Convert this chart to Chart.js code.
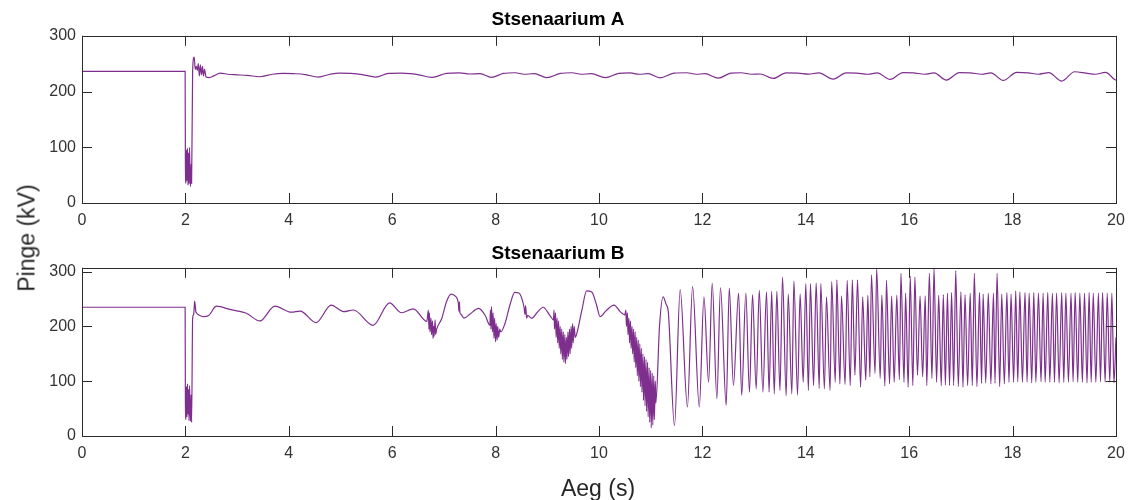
<!DOCTYPE html>
<html>
<head>
<meta charset="utf-8">
<script src="https://cdn.jsdelivr.net/npm/chart.js@4.4.1/dist/chart.umd.min.js"></script>
<style>
  body { margin: 0; background: #fff; width: 1128px; height: 500px; position: relative; overflow: hidden; }
  canvas { position: absolute; left: 0; }
  #chartA { top: 0; }
  #chartB { top: 232px; }
  .lbl { position: absolute; font-family: "Liberation Sans", Arial, Helvetica, sans-serif; font-size: 23px; color: #262626; white-space: nowrap; }
  #ylabel { left: 27px; top: 238px; transform: translate(-50%, -50%) rotate(-90deg); }
  #xlabel { left: 598px; top: 488px; transform: translate(-50%, -50%); }
</style>
</head>
<body>
<canvas id="chartA" width="1128" height="235"></canvas>
<canvas id="chartB" width="1128" height="268"></canvas>
<div class="lbl" id="ylabel">Pinge (kV)</div>
<div class="lbl" id="xlabel">Aeg (s)</div>
<script>
// axis ticks
const xTicks = [0, 2, 4, 6, 8, 10, 12, 14, 16, 18, 20];
const yTicks = [0, 100, 200, 300];
const titles = ["Stsenaarium A", "Stsenaarium B"];

// Stsenaarium A: time (s) and voltage (kV)
const tA = [0, 1.995, 2.0, 2.01, 2.02, 2.03, 2.04, 2.05, 2.06, 2.07, 2.08, 2.09, 2.10, 2.11, 2.12,
  2.14, 2.17, 2.19, 2.21, 2.23, 2.25, 2.27, 2.29, 2.31, 2.33, 2.35, 2.37, 2.40, 2.46, 2.55,
  2.67, 2.82, 2.99, 3.2, 3.44, 3.68, 3.89, 4.1, 4.32, 4.57, 4.8, 4.98, 5.2, 5.42, 5.68,
  5.93, 6.18, 6.35, 6.52, 6.76, 7.05, 7.3, 7.5, 7.7, 7.92, 8.15, 8.38, 8.55, 8.75, 8.99,
  9.25, 9.48, 9.65, 9.85, 10.12, 10.38, 10.6, 10.78, 10.95, 11.18, 11.45, 11.7, 11.88, 12.05, 12.31,
  12.55, 12.75, 12.95, 13.12, 13.37, 13.62, 13.85, 14.05, 14.25, 14.53, 14.78, 14.98, 15.2, 15.38, 15.63,
  15.88, 16.08, 16.3, 16.48, 16.72, 16.97, 17.18, 17.4, 17.58, 17.82, 18.08, 18.3, 18.5, 18.7, 18.95,
  19.2, 19.42, 19.6, 19.8, 19.98, 20];
const vA = [236, 236, 70, 35, 95, 40, 98, 32, 90, 35, 100, 45, 30, 70, 35,
  238, 262, 240, 245, 238, 250, 228, 248, 230, 245, 228, 240, 226, 225, 228,
  233, 231, 230, 229, 226.5, 231, 232.5, 232, 230.5, 226, 231, 233, 232.5, 230.5, 226,
  232.5, 233, 232, 230, 225.3, 232.5, 233.5, 231.5, 232, 225.3, 232.5, 233.7, 231, 232, 225,
  232.5, 233.7, 231, 232, 225, 232.5, 233.5, 231, 232, 224.5, 233, 233.7, 231, 232, 224,
  233, 233.7, 231, 231.5, 223.6, 233.5, 233, 231.3, 233.5, 222.4, 233.5, 233, 231, 233.5, 221.8,
  234, 233.5, 231, 233.5, 220.6, 234, 233.5, 231, 233.5, 220, 234.5, 233.5, 231, 234, 218.8,
  235.5, 233, 231, 234.5, 221, 220.6];

// Stsenaarium B: time (s) and voltage (kV)
const tB = [
  0, 1.995, 2.0, 2.01, 2.02, 2.03, 2.04, 2.05, 2.06, 2.07, 2.08, 2.09, 2.10, 2.11, 2.12, 2.14, 2.16, 2.18, 2.20, 2.22, 2.26, 2.35, 2.45,
  2.6, 2.86, 3.18, 3.44, 3.73, 4.05, 4.22, 4.53, 4.82, 5.06, 5.25, 5.63, 5.95, 6.18, 6.41, 6.67,
  6.70, 6.71, 6.72, 6.73, 6.75, 6.76, 6.78, 6.79, 6.80, 6.81, 6.83, 6.84, 6.86, 6.88,
  6.96, 7.05, 7.14, 7.21, 7.28, 7.29, 7.30, 7.31, 7.33, 7.39, 7.5, 7.67, 7.80, 7.89,
  7.90, 7.91, 7.92, 7.94, 7.95, 7.97, 7.98, 8.00, 8.01, 8.03, 8.04, 8.06, 8.08, 8.10,
  8.18, 8.28, 8.37, 8.45, 8.55, 8.57, 8.58, 8.60, 8.62, 8.70, 8.80, 8.92, 9.05, 9.12,
  9.13, 9.14, 9.16, 9.17, 9.19, 9.20, 9.22, 9.23, 9.25, 9.26, 9.28, 9.29, 9.31, 9.32, 9.34,
  9.35, 9.37, 9.38, 9.40, 9.41, 9.43, 9.44, 9.46, 9.47, 9.49, 9.50, 9.52, 9.54, 9.57,
  9.67, 9.76, 9.86, 9.95, 10.02, 10.15, 10.29, 10.41, 10.50,
  10.52, 10.53, 10.55, 10.56, 10.58, 10.59, 10.61, 10.62, 10.64, 10.65, 10.67, 10.68, 10.70, 10.71, 10.73, 10.74, 10.76, 10.77, 10.79, 10.80,
  10.82, 10.83, 10.85, 10.86, 10.88, 10.89, 10.91, 10.92, 10.94, 10.95, 10.97, 10.98, 11.00, 11.01, 11.03, 11.04, 11.06, 11.07, 11.09, 11.10,
  11.17, 11.24, 11.30, 11.34, 11.46, 11.57, 11.71, 11.81, 11.94, 12.03,
  12.12, 12.19, 12.28, 12.35, 12.46, 12.52, 12.60, 12.70, 12.76, 12.84,
  12.91, 12.97, 13.04, 13.10, 13.17, 13.24, 13.29,
  13.34, 13.39, 13.44, 13.50, 13.55, 13.62, 13.66, 13.73, 13.77, 13.84,
  13.89, 13.95, 14.00, 14.05, 14.09, 14.15, 14.20, 14.26, 14.29, 14.36,
  14.40, 14.47, 14.50, 14.57, 14.60, 14.66, 14.69, 14.76, 14.80, 14.86,
  14.90, 14.95, 15.00, 15.06, 15.10, 15.16, 15.20, 15.24, 15.27, 15.34,
  15.37, 15.44, 15.47, 15.53, 15.56, 15.62, 15.66, 15.71, 15.76, 15.81,
  15.84, 15.90, 15.93, 15.98, 16.02, 16.07, 16.11, 16.16, 16.21, 16.26,
  16.31, 16.34, 16.39, 16.44, 16.48, 16.53, 16.57, 16.62,
  16.66, 16.70, 16.74, 16.78, 16.82, 16.86, 16.90, 16.95, 17.00, 17.04,
  17.08, 17.13, 17.18, 17.22, 17.26, 17.31, 17.36, 17.40, 17.43, 17.48,
  17.53, 17.58, 17.63, 17.66, 17.70, 17.75, 17.79, 17.84, 17.89, 17.93,
  17.97, 18.02, 18.06, 18.10, 18.14, 18.19, 18.24, 18.28, 18.32, 18.37,
  18.41, 18.45, 18.50, 18.55, 18.59, 18.63, 18.68, 18.72, 18.77, 18.81,
  18.85, 18.90, 18.95, 18.99, 19.03, 19.08, 19.13, 19.17, 19.21, 19.26,
  19.30, 19.35, 19.39, 19.44, 19.48, 19.52, 19.56, 19.61, 19.66, 19.70,
  19.74, 19.79, 19.83, 19.88, 19.92, 19.96, 20.00];
const vB = [
  235, 235, 60, 30, 90, 35, 95, 40, 85, 28, 92, 45, 27, 75, 25, 215, 222, 246, 228, 224, 221, 218, 220,
  237, 231, 224, 210, 237, 226, 228, 207, 239, 227, 230, 202, 243, 225, 232, 209,
  230, 195, 225, 190, 215, 185, 210, 178, 200, 182, 212, 185, 195, 200,
  215, 245, 259, 256, 242, 228, 245, 225, 222, 215, 222, 233, 220, 202,
  230, 195, 236, 190, 225, 178, 215, 172, 205, 175, 200, 180, 195, 190,
  205, 240, 262, 261, 235, 222, 238, 215, 220, 215, 225, 235, 220, 212,
  230, 195, 225, 180, 215, 170, 210, 160, 200, 150, 195, 140, 190, 135, 185,
  132, 180, 140, 190, 145, 195, 150, 200, 160, 205, 170, 200, 180, 187,
  230, 265, 263, 240, 218, 230, 239, 227, 221,
  230, 200, 225, 185, 215, 170, 210, 160, 200, 150, 195, 135, 190, 125, 180, 110, 175, 100, 168, 90,
  160, 80, 150, 65, 145, 55, 140, 45, 135, 35, 125, 25, 120, 15, 115, 20, 110, 30, 100, 60,
  200, 254, 240, 227, 19, 267, 53, 273, 53, 254,
  98, 279, 68, 271, 56, 270, 92, 261, 74, 261,
  80, 258, 86, 266, 80, 263, 80,
  264, 77, 264, 83, 290, 73, 259, 77, 283, 75,
  259, 98, 278, 83, 278, 92, 279, 87, 278, 86,
  254, 83, 282, 98, 285, 95, 256, 94, 284, 92,
  285, 111, 285, 89, 254, 102, 257, 108, 294, 114,
  306, 105, 257, 91, 284, 95, 256, 98, 257, 103,
  297, 98, 261, 89, 292, 92, 290, 111, 256, 108,
  256, 92, 297, 105, 306, 98, 257, 92,
  258, 93, 261, 92, 262, 92, 302, 90, 263, 89,
  258, 92, 261, 92, 297, 90, 262, 96, 259, 97,
  261, 95, 261, 96, 297, 90, 259, 95, 262, 98,
  259, 98, 265, 99, 263, 98, 262, 98, 261, 97,
  262, 98, 261, 99, 261, 98, 262, 98, 261, 98,
  261, 97, 262, 98, 261, 98, 261, 99, 262, 98,
  261, 98, 261, 97, 262, 98, 261, 98, 261, 99,
  262, 98, 261, 98, 261, 97, 180];

const FONT = "'Liberation Sans', Arial, Helvetica, sans-serif";
const LINE = "#7E2F8E";

// box around the plot with inward ticks on all four sides (MATLAB look)
const boxTicks = {
  id: "boxTicks",
  afterDraw(chart) {
    const { ctx, chartArea: a, scales: { x, y } } = chart;
    ctx.save();
    ctx.strokeStyle = "#2b2b2b";
    ctx.lineWidth = 1;
    ctx.strokeRect(Math.round(a.left) + 0.5, Math.round(a.top) + 0.5,
      Math.round(a.right) - Math.round(a.left), Math.round(a.bottom) - Math.round(a.top));
    ctx.beginPath();
    x.ticks.forEach(t => {
      const px = Math.round(x.getPixelForValue(t.value)) + 0.5;
      ctx.moveTo(px, a.bottom); ctx.lineTo(px, a.bottom - 10);
      ctx.moveTo(px, a.top); ctx.lineTo(px, a.top + 10);
    });
    y.ticks.forEach(t => {
      const py = Math.round(y.getPixelForValue(t.value)) + 0.5;
      ctx.moveTo(a.left, py); ctx.lineTo(a.left + 10, py);
      ctx.moveTo(a.right, py); ctx.lineTo(a.right - 10, py);
    });
    ctx.stroke();
    ctx.restore();
  }
};

function makeChart(id, title, ts, vs, yMax, titlePad, bottomPad) {
  const ctx = document.getElementById(id).getContext("2d");
  return new Chart(ctx, {
    type: "line",
    data: {
      datasets: [{
        data: ts.map((t, i) => ({ x: t, y: vs[i] })),
        borderColor: LINE,
        borderWidth: 1.2,
        pointRadius: 0,
        cubicInterpolationMode: "monotone",
        fill: false
      }]
    },
    options: {
      responsive: false,
      animation: false,
      devicePixelRatio: 1,
      layout: { padding: { left: 0, right: 12, top: 0, bottom: bottomPad } },
      plugins: {
        legend: { display: false },
        tooltip: { enabled: false },
        title: {
          display: true,
          text: title,
          color: "#000",
          font: { family: FONT, size: 19, weight: "bold" },
          padding: titlePad
        }
      },
      scales: {
        x: {
          type: "linear",
          min: 0,
          max: 20,
          afterBuildTicks: s => { s.ticks = xTicks.map(v => ({ value: v })); },
          afterFit: s => { s.height = 32; s.paddingLeft = 0; s.paddingRight = 0; },
          grid: { display: false, drawTicks: false, tickLength: 0 },
          border: { display: false },
          ticks: { color: "#333", font: { family: FONT, size: 16 }, padding: 8, maxRotation: 0, autoSkip: false }
        },
        y: {
          min: 0,
          max: yMax,
          afterBuildTicks: s => { s.ticks = yTicks.map(v => ({ value: v })); },
          afterFit: s => { s.width = 82; s.paddingTop = 0; s.paddingBottom = 0; },
          grid: { display: false, drawTicks: false, tickLength: 0 },
          border: { display: false },
          ticks: { color: "#333", font: { family: FONT, size: 16 }, padding: 6 }
        }
      }
    },
    plugins: [boxTicks]
  });
}

makeChart("chartA", titles[0], tA, vA, 300, { top: 8, bottom: 5 }, 0);
makeChart("chartB", titles[1], tB, vB, 307, { top: 10, bottom: 3 }, 32);
</script>
</body>
</html>
